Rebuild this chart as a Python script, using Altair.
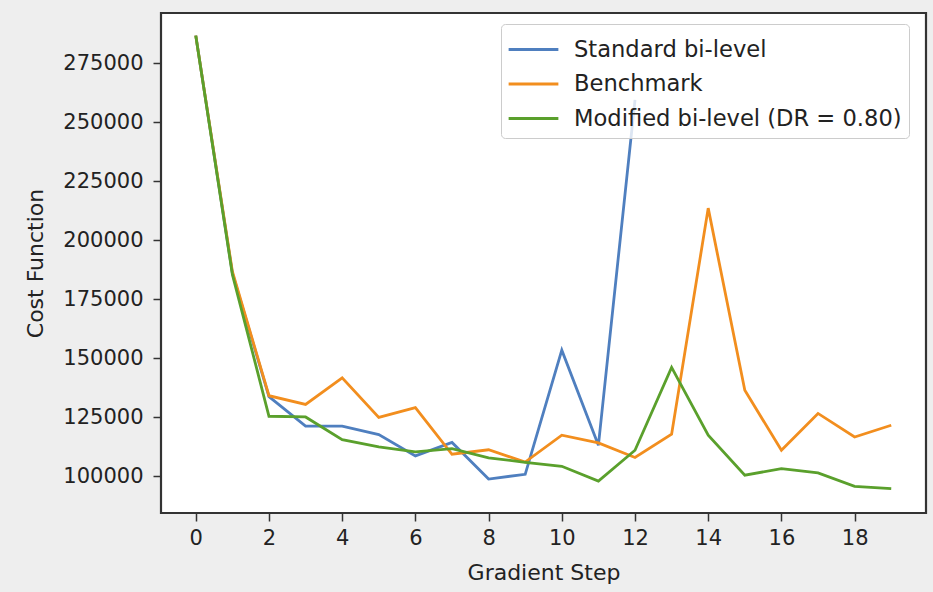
import altair as alt
import pandas as pd

steps = list(range(20))
standard = [286700, 186000, 133700, 121200, 121200, 117600, 108600, 114300, 98800,
            100800, 153400, 113100, 259500]
benchmark = [286700, 186800, 134100, 130400, 141700, 124900, 129100, 109300, 111200,
             106000, 117400, 114100, 107900, 117800, 213600, 136400, 111000, 126600,
             116600, 121600]
modified = [286700, 185500, 125400, 125100, 115500, 112400, 110300, 111700, 107800,
            105900, 104200, 97900, 111000, 146100, 117400, 100400, 103200, 101400,
            95700, 94700]

names = ["Standard bi-level", "Benchmark", "Modified bi-level (DR = 0.80)"]
colors = ["#4f7fbf", "#f28e1e", "#5aa02c"]

rows = []
for name, vals in zip(names, [standard, benchmark, modified]):
    for s, v in zip(steps, vals):
        rows.append({"step": s, "cost": v, "series": name})
df = pd.DataFrame(rows)

FONT = "DejaVu Sans"

chart = alt.Chart(df).mark_line(strokeWidth=2.8).encode(
    x=alt.X("step:Q",
            scale=alt.Scale(domain=[-0.95, 19.95], nice=False, zero=False),
            axis=alt.Axis(title="Gradient Step", values=list(range(0, 20, 2)),
                          grid=False, domain=False, tickSize=8, tickWidth=1.5,
                          tickColor="#333333", labelPadding=6, titlePadding=14,
                          labelFontSize=21, titleFontSize=22, labelFont=FONT,
                          titleFont=FONT, titleFontWeight="normal",
                          labelColor="#222222", titleColor="#222222")),
    y=alt.Y("cost:Q",
            scale=alt.Scale(domain=[84400, 296300], nice=False, zero=False),
            axis=alt.Axis(title="Cost Function",
                          values=[100000, 125000, 150000, 175000, 200000, 225000,
                                  250000, 275000],
                          format="d", grid=False, domain=False, tickSize=8,
                          tickWidth=1.5, tickColor="#333333", labelPadding=10,
                          titlePadding=15, labelFontSize=21, titleFontSize=22,
                          labelFont=FONT, titleFont=FONT, titleFontWeight="normal",
                          labelColor="#222222", titleColor="#222222")),
    color=alt.Color("series:N",
                    scale=alt.Scale(domain=names, range=colors),
                    legend=alt.Legend(title=None, orient="none", legendX=340,
                                      legendY=11,
                                      symbolType="M-1.5,0H1.5",
                                      symbolSize=1100, symbolStrokeWidth=3,
                                      symbolOffset=7,
                                      labelFontSize=22.6, labelFont=FONT,
                                      labelColor="#222222", labelOffset=22,
                                      labelLimit=500,
                                      rowPadding=3.5, padding=7,
                                      fillColor="rgba(255,255,255,0.8)",
                                      strokeColor="#cccccc", cornerRadius=4)),
    detail="series:N",
).properties(
    width=765, height=500, background="#eeeeee",
    padding={"left": 161, "top": 13, "right": 7, "bottom": 79},
    autosize=alt.AutoSizeParams(type="none"),
).configure_view(fill="white", stroke="#333333", strokeWidth=2.2)

chart.save("out.html", embed_options={"renderer": "svg", "actions": False})
